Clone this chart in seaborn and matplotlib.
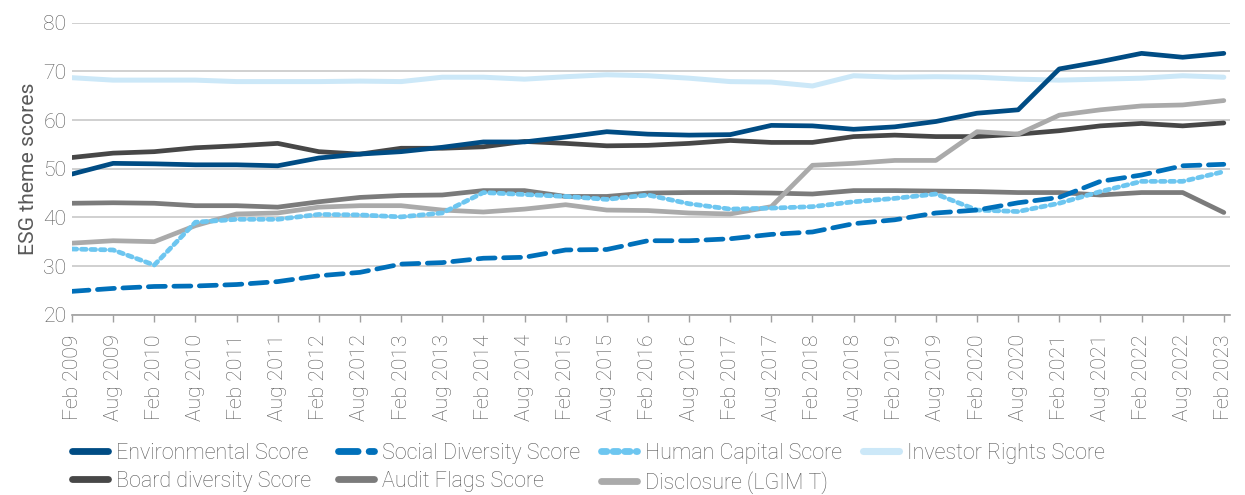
import matplotlib
matplotlib.use("Agg")
import matplotlib.pyplot as plt
from matplotlib.lines import Line2D
import seaborn as sns
import pandas as pd

dates = ["Feb 2009", "Aug 2009", "Feb 2010", "Aug 2010", "Feb 2011", "Aug 2011",
         "Feb 2012", "Aug 2012", "Feb 2013", "Aug 2013", "Feb 2014", "Aug 2014",
         "Feb 2015", "Aug 2015", "Feb 2016", "Aug 2016", "Feb 2017", "Aug 2017",
         "Feb 2018", "Aug 2018", "Feb 2019", "Aug 2019", "Feb 2020", "Aug 2020",
         "Feb 2021", "Aug 2021", "Feb 2022", "Aug 2022", "Feb 2023"]

environmental = [48.9, 51.1, 51.0, 50.8, 50.8, 50.6, 52.2, 53.0, 53.5, 54.4, 55.5, 55.5,
                 56.5, 57.6, 57.1, 56.9, 57.0, 58.9, 58.8, 58.1, 58.6, 59.7, 61.4, 62.1,
                 70.5, 72.0, 73.7, 72.9, 73.7]
social_diversity = [24.8, 25.4, 25.8, 25.9, 26.2, 26.8, 28.0, 28.7, 30.4, 30.7, 31.6, 31.8,
                    33.3, 33.4, 35.2, 35.2, 35.6, 36.5, 37.0, 38.7, 39.5, 40.9, 41.5, 43.0,
                    44.1, 47.4, 48.7, 50.6, 50.9]
human_capital = [33.5, 33.3, 30.2, 39.0, 39.6, 39.6, 40.6, 40.5, 40.1, 40.9, 45.1, 44.7,
                 44.3, 43.7, 44.6, 42.8, 41.7, 41.9, 42.2, 43.2, 43.9, 44.8, 41.5, 41.2,
                 42.9, 45.3, 47.4, 47.4, 49.4]
investor_rights = [68.7, 68.2, 68.2, 68.2, 67.9, 67.9, 67.9, 68.0, 67.9, 68.8, 68.8, 68.4,
                   68.9, 69.3, 69.1, 68.6, 67.9, 67.8, 67.0, 69.1, 68.8, 68.9, 68.8, 68.4,
                   68.2, 68.4, 68.6, 69.1, 68.8]
board_diversity = [52.3, 53.2, 53.5, 54.3, 54.7, 55.2, 53.5, 53.0, 54.2, 54.2, 54.5, 55.6,
                   55.2, 54.7, 54.8, 55.2, 55.8, 55.4, 55.4, 56.6, 56.9, 56.6, 56.6, 57.1,
                   57.8, 58.8, 59.3, 58.8, 59.4]
audit_flags = [42.9, 43.0, 42.9, 42.4, 42.4, 42.1, 43.2, 44.1, 44.5, 44.6, 45.5, 45.5,
               44.3, 44.3, 45.0, 45.1, 45.1, 45.0, 44.8, 45.5, 45.5, 45.4, 45.3, 45.1,
               45.1, 44.6, 45.1, 45.1, 41.0]
disclosure = [34.7, 35.2, 35.0, 38.3, 40.7, 40.9, 42.1, 42.4, 42.4, 41.5, 41.1, 41.7,
              42.6, 41.5, 41.4, 40.9, 40.7, 42.2, 50.7, 51.1, 51.7, 51.7, 57.6, 57.1,
              61.0, 62.1, 62.9, 63.1, 64.0]

series_names = ["Environmental Score", "Social Diversity Score", "Human Capital Score",
                "Investor Rights Score", "Board diversity Score", "Audit Flags Score",
                "Disclosure (LGIM T)"]
series_values = [environmental, social_diversity, human_capital, investor_rights,
                 board_diversity, audit_flags, disclosure]

styles = {
    "Environmental Score": dict(color="#004C84", lw=3.4, dash=None, z=9),
    "Social Diversity Score": dict(color="#0070BA", lw=3.4, dash=(3.6, 1.8), z=7),
    "Human Capital Score": dict(color="#6DC6F0", lw=3.4, dash=(1.0, 1.0), z=6),
    "Investor Rights Score": dict(color="#CCE8F8", lw=3.6, dash=None, z=2),
    "Board diversity Score": dict(color="#474747", lw=3.4, dash=None, z=3),
    "Audit Flags Score": dict(color="#7B7B7B", lw=3.4, dash=None, z=4),
    "Disclosure (LGIM T)": dict(color="#AAAAAA", lw=3.4, dash=None, z=5),
}

sns.set_theme(style="white")
plt.rcParams["font.family"] = ["Roboto", "DejaVu Sans"]
plt.rcParams["font.weight"] = "light"

text_color = "#595959"
tick_fs = 15.2
leg_fs = 15.5

fig = plt.figure(figsize=(12.45, 4.95), dpi=100)
ax = fig.add_axes([72 / 1245, 1 - 314.7 / 495, (1230 - 72) / 1245, (314.7 - 22.7) / 495])

x = list(range(len(dates)))
handles = {}
for name, vals in zip(series_names, series_values):
    st = styles[name]
    df = pd.DataFrame({"x": x, "y": vals})
    n_before = len(ax.lines)
    sns.lineplot(data=df, x="x", y="y", ax=ax, color=st["color"], linewidth=st["lw"],
                 zorder=st["z"], legend=False)
    line = ax.lines[n_before]
    line.set_solid_capstyle("round")
    line.set_solid_joinstyle("round")
    if st["dash"] is not None:
        line.set_linestyle((0, st["dash"]))
        line.set_dash_capstyle("round")
    h = Line2D([0], [0], color=st["color"], linewidth=st["lw"] + 1.5,
               solid_capstyle="round", dash_capstyle="round")
    if st["dash"] is not None:
        h.set_linestyle((0, (st["dash"][0] * 0.8, st["dash"][1] * 0.9)))
    handles[name] = h

ax.set_ylim(20, 80)
ax.set_yticks([20, 30, 40, 50, 60, 70, 80])
ax.set_xlim(0, 28.15)
ax.set_xticks(x)
ax.set_xticklabels(dates, rotation=90, fontsize=tick_fs, color=text_color)
ax.tick_params(axis="y", labelsize=tick_fs, labelcolor=text_color, length=0, pad=4)
ax.tick_params(axis="x", length=5, width=1, color="#A0A0A0", direction="out", pad=9, bottom=True)
ax.yaxis.grid(True, color="#C8C8C8", linewidth=1.2)
ax.xaxis.grid(False)
for s in ["left", "right", "top"]:
    ax.spines[s].set_visible(False)
ax.spines["bottom"].set_color("#A0A0A0")
ax.spines["bottom"].set_linewidth(1.2)
ax.set_xlabel("")
ax.set_ylabel("ESG theme scores", fontsize=tick_fs, color=text_color)
ax.yaxis.set_label_coords((38 - 72) / 1158, 0.5)

legend_columns = [
    (72, ["Environmental Score", "Board diversity Score"]),
    (338, ["Social Diversity Score", "Audit Flags Score"]),
    (601, ["Human Capital Score", "Disclosure (LGIM T)"]),
    (863, ["Investor Rights Score"]),
]
for x0, names in legend_columns:
    leg = fig.legend([handles[n] for n in names], names, loc="upper left",
                     bbox_to_anchor=(x0 / 1245, 1 - 443 / 495), ncol=1, frameon=False,
                     fontsize=leg_fs, handlelength=1.65, handletextpad=0.38,
                     labelspacing=0.32, borderaxespad=0, borderpad=0)
    for t in leg.get_texts():
        t.set_color(text_color)

fig.savefig("out.png", dpi=100)
